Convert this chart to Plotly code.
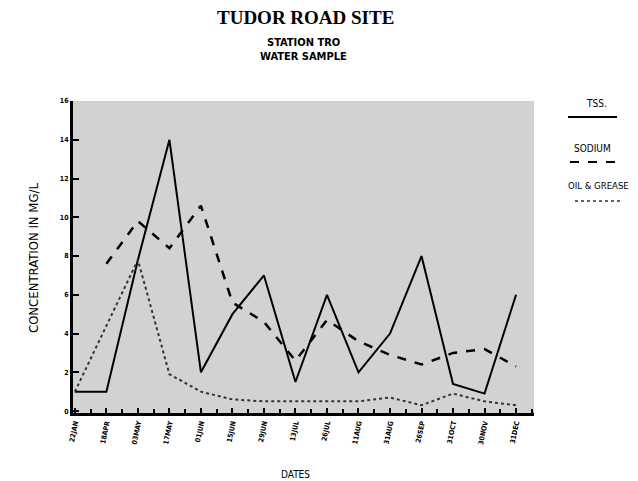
import plotly.graph_objects as go

dates = ["22JAN", "18APR", "03MAY", "17MAY", "01JUN", "15JUN", "29JUN", "13JUL",
         "26JUL", "11AUG", "31AUG", "26SEP", "31OCT", "30NOV", "31DEC"]
tss = [1.0, 1.0, 7.8, 14.0, 2.0, 5.0, 7.0, 1.5, 6.0, 2.0, 4.0, 8.0, 1.4, 0.9, 6.0]
sodium = [None, 7.6, 9.8, 8.4, 10.6, 5.6, 4.6, 2.6, 4.7, 3.6, 2.9, 2.4, 3.0, 3.2, 2.3]
oil_grease = [1.0, 4.4, 7.8, 1.9, 1.0, 0.6, 0.5, 0.5, 0.5, 0.5, 0.7, 0.3, 0.9, 0.5, 0.3]
y_ticks = [0, 2, 4, 6, 8, 10, 12, 14, 16]

xidx = list(range(len(dates)))

L, R, T, B = 73, 534, 101, 413  # plot area in pixels

fig = go.Figure()
fig.add_trace(go.Scatter(x=xidx, y=tss, mode="lines", name="TSS",
                         line=dict(color="black", width=2)))
fig.add_trace(go.Scatter(x=xidx, y=sodium, mode="lines", name="SODIUM",
                         line=dict(color="black", width=2.5, dash="dash")))
fig.add_trace(go.Scatter(x=xidx, y=oil_grease, mode="lines", name="OIL & GREASE",
                         line=dict(color="#333333", width=2, dash="dot")))

fig.update_layout(
    width=638, height=481,
    margin=dict(l=L, r=638 - R, t=T, b=481 - B),
    paper_bgcolor="white",
    plot_bgcolor="#d2d2d2",
    showlegend=False,
    font=dict(family="Liberation Sans", color="black"),
)
fig.update_xaxes(
    range=[-0.06, 14.57],
    tickvals=xidx, ticktext=["<b>%s</b>" % d for d in dates], tickangle=-78,
    tickfont=dict(size=7, family="DejaVu Sans Condensed"),
    ticks="inside", ticklen=5, tickwidth=2, tickcolor="black",
    minor=dict(ticks="inside", ticklen=4, tickwidth=1.5, tickcolor="black", dtick=0.5),
    showline=True, linecolor="black", linewidth=3,
    showgrid=False, zeroline=False,
)
fig.update_yaxes(
    range=[-0.1, 16],
    tickvals=y_ticks, ticktext=["<b>%d</b>" % v for v in y_ticks],
    tickfont=dict(size=7, family="DejaVu Sans Condensed"),
    ticks="inside", ticklen=6, tickwidth=2, tickcolor="black",
    showline=True, linecolor="black", linewidth=3,
    showgrid=False, zeroline=False,
)


def px_x(v):
    return (v - L) / (R - L)


def px_y(v):
    return 1 - (v - T) / (B - T)


SANS = "DejaVu Sans Condensed"
annos = [
    dict(text="<b>TUDOR ROAD SITE</b>", x=305, y=17, size=19, family="Liberation Serif"),
    dict(text="<b>STATION TRO</b>", x=303, y=42, size=11, family=SANS),
    dict(text="<b>WATER SAMPLE</b>", x=303, y=56, size=11, family=SANS),
    dict(text="DATES", x=295, y=474, size=10, family=SANS),
    dict(text="TSS.", x=596, y=103, size=10, family=SANS),
    dict(text="SODIUM", x=592, y=148, size=10, family=SANS),
    dict(text="OIL & GREASE", x=598, y=186, size=9.5, family=SANS),
]
for a in annos:
    fig.add_annotation(text=a["text"], x=px_x(a["x"]), y=px_y(a["y"]),
                       xref="paper", yref="paper", showarrow=False,
                       xanchor="center", yanchor="middle",
                       font=dict(size=a["size"], family=a["family"], color="black"))

fig.add_annotation(text="CONCENTRATION IN MG/L", x=px_x(33), y=px_y(258),
                   xref="paper", yref="paper", showarrow=False, textangle=-90,
                   xanchor="center", yanchor="middle",
                   font=dict(size=13, family=SANS, color="black"))

for y_px, dash, width, color, x0, x1 in [(117, "solid", 2, "black", 568, 617),
                                          (162, "dash", 2, "black", 570, 617),
                                          (201, "dot", 1.5, "#333333", 575, 622)]:
    fig.add_shape(type="line", xref="paper", yref="paper",
                  x0=px_x(x0), x1=px_x(x1), y0=px_y(y_px), y1=px_y(y_px),
                  line=dict(color=color, width=width, dash=dash))

fig.write_html("out.html",
               config={"displayModeBar": False},
               post_script="document.body.style.margin='0px';document.body.style.overflow='hidden';")
